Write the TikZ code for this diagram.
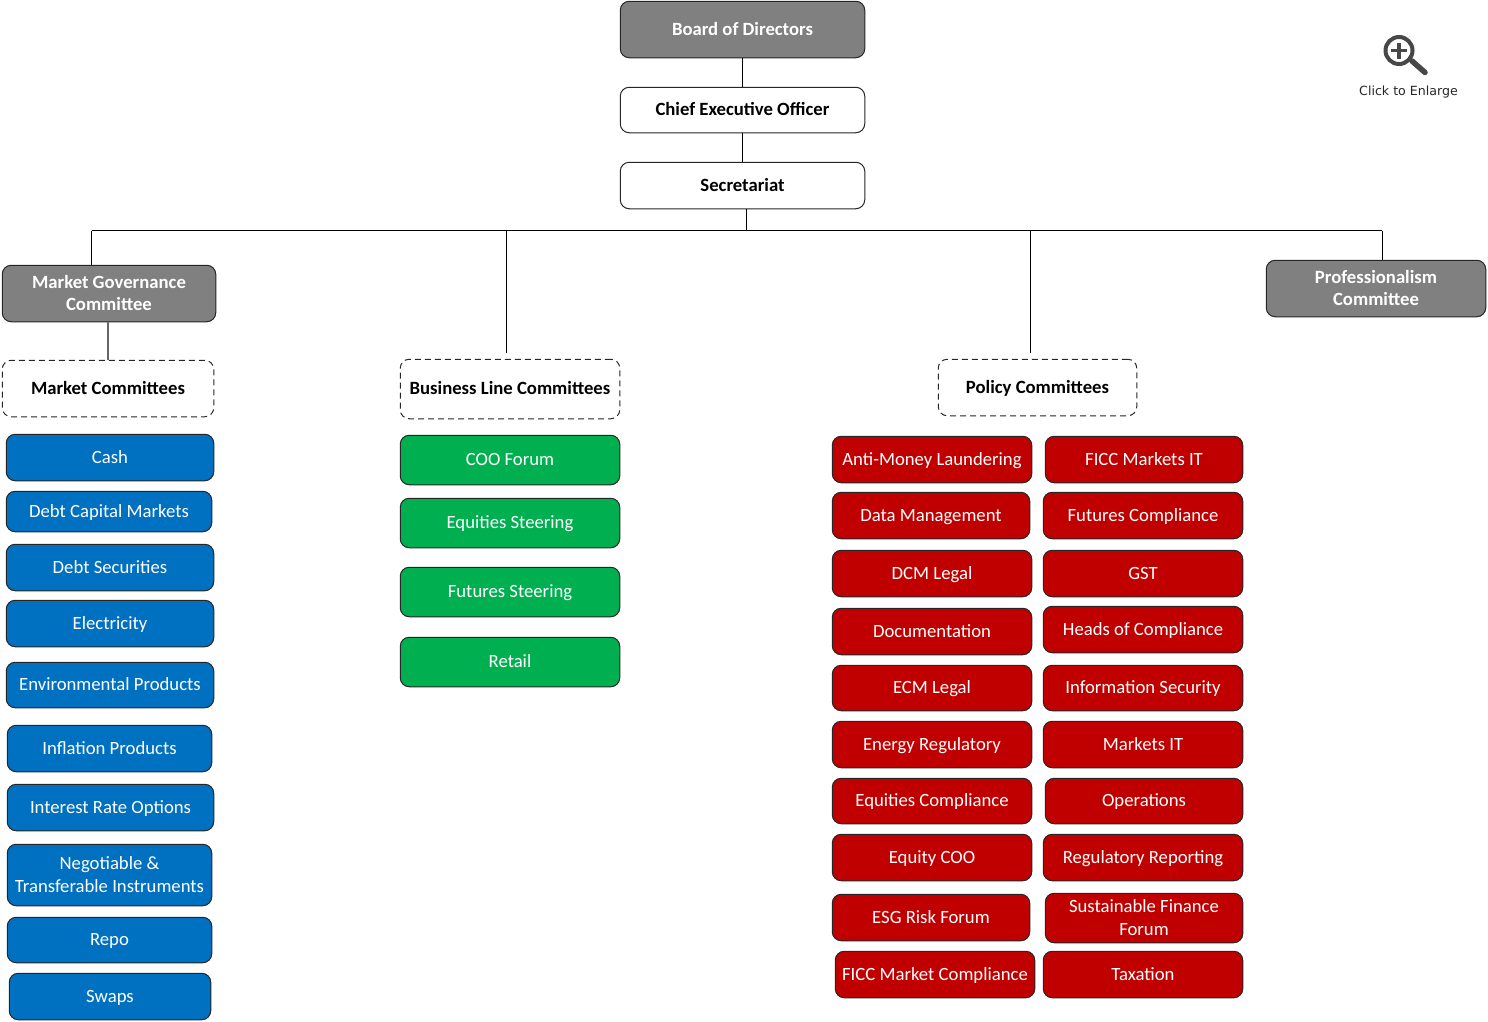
\documentclass[tikz,border=0pt]{standalone}
\usepackage{fontspec}
\setmainfont{Carlito}
\newfontfamily\iconfont{DejaVu Sans}
\definecolor{mblue}{HTML}{0070C0}
\definecolor{mgreen}{HTML}{00B050}
\definecolor{mred}{HTML}{C00000}
\definecolor{mgray}{HTML}{808080}
\definecolor{edge}{HTML}{262626}
\tikzset{
  base/.style={rounded corners=9pt,draw=edge,line width=1pt,inner sep=0pt,align=center,font=\fontsize{18.7}{23}\selectfont,text=white},
  head/.style={base,fill=mgray,font=\bfseries\fontsize{18.7}{22}\selectfont},
  plain/.style={base,fill=white,draw=edge,text=black,font=\bfseries\fontsize{18.7}{22}\selectfont},
  group/.style={plain,dashed,dash pattern=on 6pt off 4pt},
  bluebox/.style={base,fill=mblue},
  greenbox/.style={base,fill=mgreen},
  redbox/.style={base,fill=mred},
  link/.style={draw=black,line width=0.8pt},
  glink/.style={draw=mgray!80!black,line width=1.6pt},
}
\newcommand{\bx}[7]{\node[#6,minimum width={#4-#2-1.5},minimum height={#5-#3-1.5}] (#1) at ({(#2+#4)/2-0.5},{(#3+#5)/2-0.5}) {\rule{0pt}{17.5pt}#7\rule[-6pt]{0pt}{6pt}};}
\begin{document}
\begin{tikzpicture}[x=1pt,y=-1pt]
\useasboundingbox (0,0) rectangle (1488,1021);
\bx{board}{620}{1}{866}{59}{head}{Board of Directors}
\bx{ceo}{620}{87}{866}{134}{plain}{Chief Executive Officer}
\bx{sec}{620}{162}{866}{210}{plain}{Secretariat}
\bx{mg}{2}{265}{217}{323}{head}{Market Governance\\Committee}
\bx{prof}{1266}{260}{1487}{318}{head}{Professionalism\\Committee}
\bx{mc}{2}{360}{215}{418}{group}{Market Committees}
\bx{bl}{400}{359}{621}{420}{group}{Business Line Committees}
\bx{pc}{938}{359}{1138}{417}{group}{Policy Committees}
% blue
\bx{b1}{6}{434}{215}{482}{bluebox}{Cash}
\bx{b2}{6}{491}{213}{533}{bluebox}{Debt Capital Markets}
\bx{b3}{6}{544}{215}{592}{bluebox}{Debt Securities}
\bx{b4}{6}{600}{215}{648}{bluebox}{Electricity}
\bx{b5}{6}{662}{215}{709}{bluebox}{Environmental Products}
\bx{b6}{7}{725}{213}{773}{bluebox}{Inflation Products}
\bx{b7}{7}{784}{215}{832}{bluebox}{Interest Rate Options}
\bx{b8}{7}{844}{213}{907}{bluebox}{Negotiable \&\\Transferable Instruments}
\bx{b9}{7}{917}{213}{964}{bluebox}{Repo}
\bx{b10}{9}{973}{212}{1021}{bluebox}{Swaps}
% green
\bx{g1}{400}{435}{621}{486}{greenbox}{COO Forum}
\bx{g2}{400}{498}{621}{549}{greenbox}{Equities Steering}
\bx{g3}{400}{567}{621}{618}{greenbox}{Futures Steering}
\bx{g4}{400}{637}{621}{688}{greenbox}{Retail}
% red left
\bx{r1}{832}{436}{1033}{484}{redbox}{Anti-Money Laundering}
\bx{r2}{832}{492}{1031}{540}{redbox}{Data Management}
\bx{r3}{832}{550}{1033}{598}{redbox}{DCM Legal}
\bx{r4}{832}{608}{1033}{656}{redbox}{Documentation}
\bx{r5}{832}{665}{1033}{712}{redbox}{ECM Legal}
\bx{r6}{832}{721}{1033}{769}{redbox}{Energy Regulatory}
\bx{r7}{832}{778}{1033}{825}{redbox}{Equities Compliance}
\bx{r8}{832}{834}{1033}{882}{redbox}{Equity COO}
\bx{r9}{832}{894}{1031}{942}{redbox}{ESG Risk Forum}
\bx{r10}{835}{951}{1036}{999}{redbox}{FICC Market Compliance}
% red right
\bx{s1}{1045}{436}{1244}{484}{redbox}{FICC Markets IT}
\bx{s2}{1043}{492}{1244}{540}{redbox}{Futures Compliance}
\bx{s3}{1043}{550}{1244}{598}{redbox}{GST}
\bx{s4}{1043}{606}{1244}{654}{redbox}{Heads of Compliance}
\bx{s5}{1043}{665}{1244}{712}{redbox}{Information Security}
\bx{s6}{1043}{721}{1244}{769}{redbox}{Markets IT}
\bx{s7}{1045}{778}{1244}{825}{redbox}{Operations}
\bx{s8}{1043}{834}{1244}{882}{redbox}{Regulatory Reporting}
\bx{s9}{1045}{893}{1244}{944}{redbox}{Sustainable Finance\\Forum}
\bx{s10}{1043}{951}{1244}{999}{redbox}{Taxation}
% connectors
\coordinate (busL) at (91.5,230.5);
\coordinate (busR) at (1382,230.5);
\coordinate (busS) at (746,230.5);
\coordinate (busB) at (506.5,230.5);
\coordinate (busP) at (1030.5,230.5);
\coordinate (endB) at (506.5,352.5);
\coordinate (endP) at (1030.5,352.5);
\draw[link] (board.south) -- (ceo.north);
\draw[link] (ceo.south) -- (sec.north);
\draw[link] (sec.south -| busS) -- (busS);
\draw[link] (busL) -- (busR);
\draw[link] (busL) -- (busL |- mg.north);
\draw[link] (busR) -- (busR |- prof.north);
\draw[link] (busB) -- (endB);
\draw[link] (busP) -- (endP);
\draw[glink] (mc.north) -- (mc.north |- mg.south);
% icon
\node[inner sep=0pt,font=\iconfont\fontsize{12.6}{15}\selectfont,text=black!85] (enl) at (1408.5,92.5) {Click to Enlarge};
\draw[black!72,line width=5.5pt,line cap=round] (1412,61) -- (1425,72.5);
\draw[black!72,line width=4pt] (1399,50.5) circle (13.5);
\draw[black!72,line width=3.8pt] (1391,50.5) -- (1407,50.5) (1399,42.5) -- (1399,58.5);
\end{tikzpicture}
\end{document}
